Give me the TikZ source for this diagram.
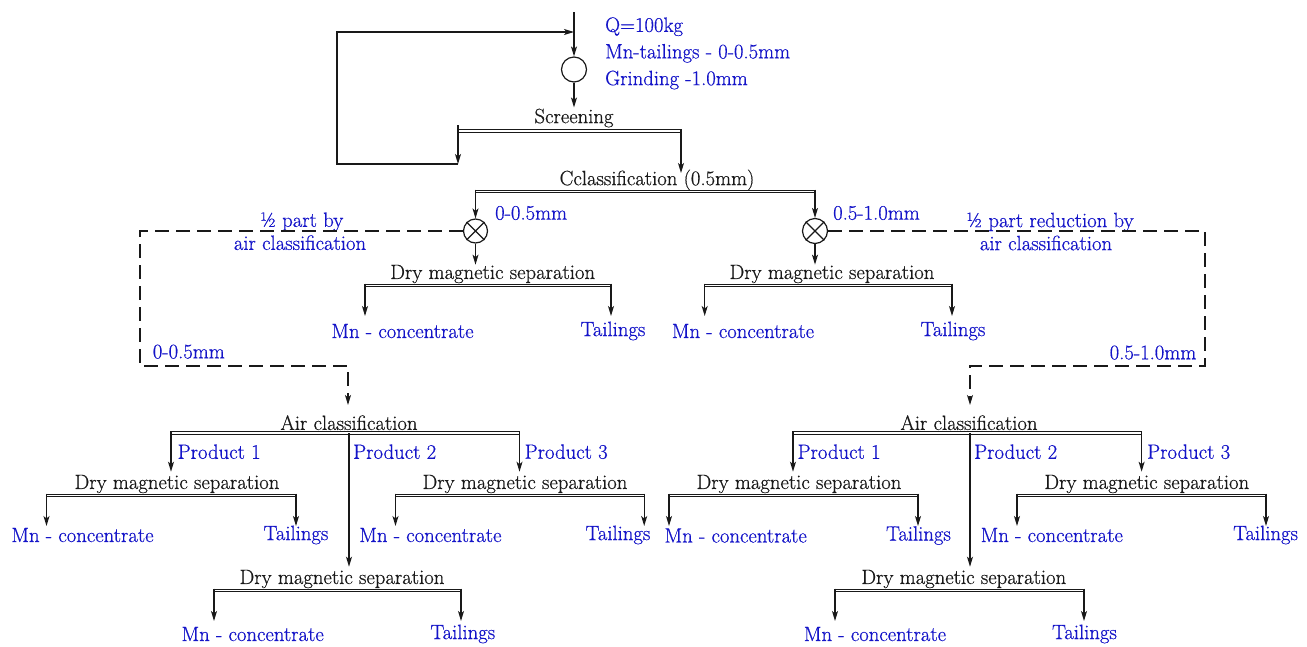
\documentclass[tikz,border=0pt]{standalone}
\usepackage{fontspec}
\setmainfont{Latin Modern Roman}[FakeBold=0.6]
\usetikzlibrary{arrows.meta,calc}
\definecolor{bl}{RGB}{20,20,200}
\definecolor{ink}{RGB}{25,25,25}
\tikzset{
  lbl/.style={inner sep=0pt, text=ink, font=\rmfamily\fontsize{20.7}{24}\selectfont},
  blbl/.style={inner sep=0pt, text=bl, font=\rmfamily\fontsize{20.7}{24}\selectfont},
  ln/.style={draw=ink, line width=1.2pt},
  arr/.style={ln, -{Stealth[length=10pt,width=6pt,inset=2.5pt]}},
  bar/.style={draw=ink, line width=1pt, double=white, double distance=1.8pt},
  dsh/.style={ln, dash pattern=on 14pt off 7pt},
  unitcirc/.style={circle, draw=ink, line width=1.2pt, minimum size=25pt, inner sep=0pt},
}
% #1 name, #2 text cx, #3 text cy, #4 bar left x, #5 bar right x, #6 Mn cx, #7 Tailings cx, #8 label y
\newcommand\sepunit[8]{%
  \node[lbl] (#1t) at (#2,#3) {Dry magnetic separation};
  \coordinate (#1l) at (#4,#3+11.5);
  \coordinate (#1r) at (#5,#3+11.5);
  \coordinate (#1ls) at (#4,#3+9.5);
  \coordinate (#1rs) at (#5,#3+9.5);
  \coordinate (#1la) at (#4,#3+42);
  \coordinate (#1ra) at (#5,#3+42);
  \node[blbl] (#1m) at (#6,#8) {Mn - concentrate};
  \node[blbl] (#1s) at (#7,#8) {Tailings};
  \draw[bar] (#1l) -- (#1r);
  \draw[arr] (#1ls) -- (#1la);
  \draw[arr] (#1rs) -- (#1ra);
}
\begin{document}
\begin{tikzpicture}[x=1pt,y=-1pt]
\useasboundingbox (0,0) rectangle (1307,646);

% ---- top: feed, grinding, screening
\coordinate (feed) at (574,12);
\node[unitcirc] (mill) at (574,69.5) {};
\draw[arr] (feed) -- (mill.north);
\coordinate (fbTop) at (337,32);
\coordinate (fbJoin) at (574,32);
\coordinate (fbBot) at (337,164);
\node[blbl, anchor=west] (q) at (605,26.7) {Q=100kg};
\node[blbl, anchor=west] (mnt) at (605,53.3) {Mn-tailings - 0-0.5mm};
\node[blbl, anchor=west] (gr) at (605,80) {Grinding -1.0mm};

\node[lbl] (scr) at (574,118) {Screening};
\draw[arr, shorten >=1pt] (mill.south) -- (scr.north);
\coordinate (scrL) at (458,131);
\coordinate (scrR) at (681,131);
\coordinate (scrLs) at (458,125);
\coordinate (scrRs) at (681,129);
\coordinate (scrLa) at (458,164);
\coordinate (scrRa) at (681,173);
\draw[bar] (scrL) -- (scrR);
\draw[arr] (scrLs) -- (scrLa);
\draw[arr] (scrRs) -- (scrRa);
\draw[arr] (scrLa) -- (fbBot) -- (fbTop) -- (fbJoin);

% ---- classification
\node[lbl] (cls) at (657,180) {Cclassification (0.5mm)};
\coordinate (clsL) at (475.5,191.5);
\coordinate (clsR) at (815,191.5);
\coordinate (clsLs) at (475.5,189.5);
\coordinate (clsRs) at (815,189.5);
\draw[bar] (clsL) -- (clsR);
\node[unitcirc, minimum size=24pt] (xl) at (475.5,231) {};
\node[unitcirc] (xr) at (815,231) {};
\draw[ln] (xl.north west) -- (xl.south east) (xl.north east) -- (xl.south west);
\draw[ln] (xr.north west) -- (xr.south east) (xr.north east) -- (xr.south west);
\draw[arr] (clsLs) -- (xl.north);
\draw[arr] (clsRs) -- (xr.north);
\node[blbl, anchor=west] (l05) at (495,213) {0-0.5mm};
\node[blbl, anchor=west] (r05) at (833,213) {0.5-1.0mm};

% ---- first separations
\sepunit{lu}{492.7}{274}{365}{611}{402.5}{613}{331}
\sepunit{ru}{832}{274}{704.7}{952}{743}{953}{331}
\draw[arr] (xl.south) -- (xl.south |- lut.north);
\draw[arr] (xr.south) -- (xr.south |- rut.north);

% ---- dashed bypasses
\node[blbl] (lh1) at (301.7,221.7) {½ part by};
\node[blbl] (lh2) at (300,242.7) {air classification};
\node[blbl] (rh1) at (1050,222) {½ part reduction by};
\node[blbl] (rh2) at (1046,243) {air classification};
\node[blbl, anchor=west] (l05b) at (152.7,351.7) {0-0.5mm};
\node[blbl, anchor=east] (r05b) at (1196.5,352.6) {0.5-1.0mm};

\coordinate (ld1) at (140,231);
\coordinate (ld2) at (140,366);
\coordinate (ld3) at (348,366);
\coordinate (rd1) at (1205,231);
\coordinate (rd2) at (1205,366);
\coordinate (rd3) at (970,366);

\node[lbl] (lair) at (349,422.7) {Air classification};
\node[lbl] (rair) at (969,422.7) {Air classification};
\draw[dsh, -{Stealth[length=10pt,width=6pt,inset=2.5pt]}] (xl.west) -- (ld1) -- (ld2) -- (ld3) -- (ld3 |- 0,405);
\draw[dsh, -{Stealth[length=10pt,width=6pt,inset=2.5pt]}] (xr.east) -- (rd1) -- (rd2) -- (rd3) -- (rd3 |- 0,405);

% ---- left air classification
\coordinate (laL) at (171,433);
\coordinate (laR) at (519.5,433);
\coordinate (laC) at (349,433);
\coordinate (laLs) at (171,431);
\coordinate (laRs) at (519.5,431);
\coordinate (laLa) at (171,471.7);
\coordinate (laRa) at (519.5,471.7);
\coordinate (laCa) at (349,566.7);
\draw[bar] (laL) -- (laR);
\draw[arr] (laLs) -- (laLa);
\draw[arr] (laRs) -- (laRa);
\draw[arr] (laC) -- (laCa);
\node[blbl, anchor=west] (lp1) at (177.5,451.7) {Product 1};
\node[blbl, anchor=west] (lp2) at (353,451.7) {Product 2};
\node[blbl, anchor=west] (lp3) at (524.5,451.7) {Product 3};
\sepunit{la}{177}{484}{46.5}{296}{82.5}{296}{535}
\sepunit{lc}{525}{484}{395.5}{644.2}{430.4}{618}{535}
\sepunit{lb}{342}{579}{214}{461}{252.7}{462.8}{634}

% ---- right air classification
\coordinate (raL) at (793,433);
\coordinate (raR) at (1141.6,433);
\coordinate (raC) at (970,433);
\coordinate (raLs) at (793,431);
\coordinate (raRs) at (1141.6,431);
\coordinate (raLa) at (793,471.7);
\coordinate (raRa) at (1141.6,471.7);
\coordinate (raCa) at (970,566.7);
\draw[bar] (raL) -- (raR);
\draw[arr] (raLs) -- (raLa);
\draw[arr] (raRs) -- (raRa);
\draw[arr] (raC) -- (raCa);
\node[blbl, anchor=west] (rp1) at (797.4,451.7) {Product 1};
\node[blbl, anchor=west] (rp2) at (974,451.7) {Product 2};
\node[blbl, anchor=west] (rp3) at (1147,451.7) {Product 3};
\sepunit{ra}{799}{484}{669}{918}{735.7}{918.5}{535.5}
\sepunit{rc}{1146.8}{484}{1017}{1266}{1051.8}{1265.6}{535}
\sepunit{rb}{963.8}{579}{835}{1084}{875}{1084.5}{634}
\end{tikzpicture}
\end{document}
